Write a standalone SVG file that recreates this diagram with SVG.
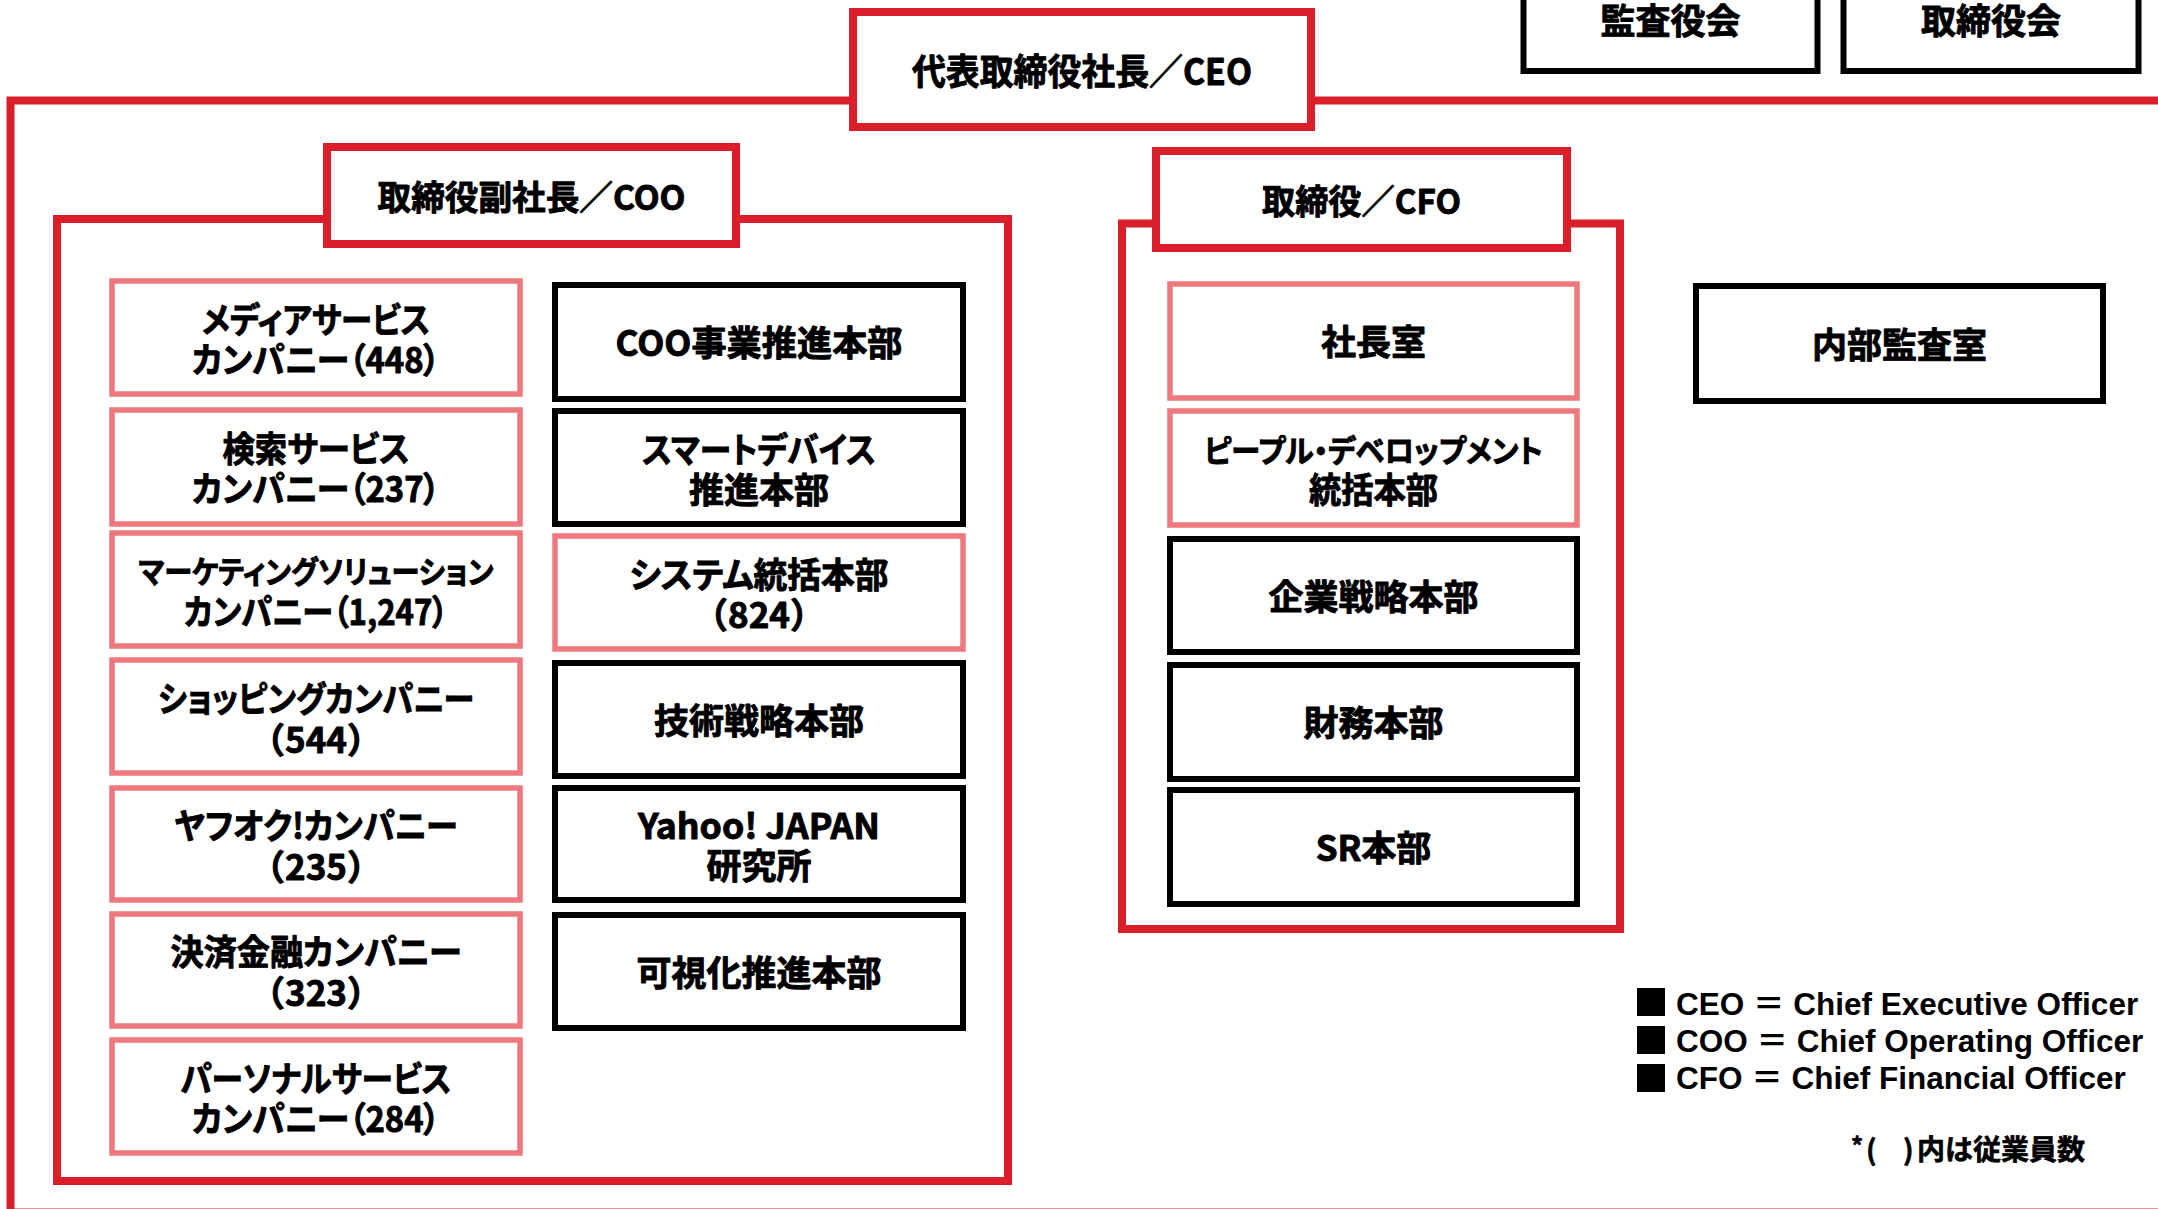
<svg xmlns="http://www.w3.org/2000/svg" width="2158" height="1209" viewBox="0 0 2158 1209">
<defs>
<style>
.frame{fill:none;stroke:#DA1F2B;stroke-width:8}
.red{fill:#fff;stroke:#DA1F2B;stroke-width:8}
.pink{fill:#fff;stroke:#EE787E;stroke-width:5.5}
.blk{fill:#fff;stroke:#000;stroke-width:6}
.t{font-family:"Noto Sans CJK JP","Noto Sans CJK SC",sans-serif;font-weight:700;font-size:35px;fill:#000;stroke:#000;stroke-width:0.9;stroke-linejoin:round;text-anchor:middle;dominant-baseline:central}
.p{font-feature-settings:"palt"}
.lg{font-family:"Liberation Sans","Noto Sans CJK JP",sans-serif;font-weight:700;font-size:31.5px;fill:#000}
.eq{font-family:"Noto Sans CJK JP",sans-serif}
.fn{font-family:"Noto Sans CJK JP",sans-serif;font-weight:700;font-size:28px;fill:#000;stroke:#000;stroke-width:0.6;dominant-baseline:central}
</style>
</defs>
<rect x="0" y="0" width="2158" height="1209" fill="#fff"/>

<g id="connectors">
  <rect class="frame" x="10.5" y="100.5" width="2300" height="1112"/>
  <rect class="frame" x="57" y="219" width="951" height="962"/>
  <rect class="frame" x="1122" y="223.5" width="498" height="705.5"/>
</g>

<g id="ceo">
  <rect class="red" x="853" y="12" width="458" height="115"/>
  <text class="t" x="1082" y="69" style="font-size:36px" textLength="340" lengthAdjust="spacingAndGlyphs">代表取締役社長／CEO</text>
</g>
<g id="kansayakukai">
  <rect class="blk" x="1523.5" y="-45" width="294" height="116"/>
  <text class="t" x="1670.5" y="18">監査役会</text>
</g>
<g id="torishimariyakukai">
  <rect class="blk" x="1843.5" y="-45" width="295" height="116"/>
  <text class="t" x="1991" y="18">取締役会</text>
</g>

<g id="coo">
  <rect class="red" x="327" y="147" width="409" height="97"/>
  <text class="t" x="531.5" y="195" style="font-size:34px" textLength="308" lengthAdjust="spacingAndGlyphs">取締役副社長／COO</text>
</g>
<g id="cfo">
  <rect class="red" x="1156" y="151" width="411" height="97"/>
  <text class="t" x="1361.5" y="199" style="font-size:34px" textLength="199" lengthAdjust="spacingAndGlyphs">取締役／CFO</text>
</g>

<!-- COO left column -->
<g id="media">
  <rect class="pink" x="112" y="281" width="408" height="113"/>
  <text class="t p" x="316" y="317" textLength="228" lengthAdjust="spacingAndGlyphs">メディアサービス</text>
  <text class="t p" x="316" y="357" textLength="248" lengthAdjust="spacingAndGlyphs">カンパニー（448）</text>
</g>
<g id="search">
  <rect class="pink" x="112" y="410" width="408" height="114"/>
  <text class="t p" x="316" y="446.5" textLength="187" lengthAdjust="spacingAndGlyphs">検索サービス</text>
  <text class="t p" x="316" y="486.5" textLength="248" lengthAdjust="spacingAndGlyphs">カンパニー（237）</text>
</g>
<g id="marketing">
  <rect class="pink" x="112" y="533" width="408" height="113"/>
  <text class="t p" x="316" y="569" style="font-size:31px" textLength="355" lengthAdjust="spacingAndGlyphs">マーケティングソリューション</text>
  <text class="t p" x="316" y="609" textLength="264" lengthAdjust="spacingAndGlyphs">カンパニー（1,247）</text>
</g>
<g id="shopping">
  <rect class="pink" x="112" y="660" width="408" height="113"/>
  <text class="t p" x="316" y="696" textLength="316" lengthAdjust="spacingAndGlyphs">ショッピングカンパニー</text>
  <text class="t" x="316" y="737.5">（544）</text>
</g>
<g id="auction">
  <rect class="pink" x="112" y="788" width="408" height="112"/>
  <text class="t p" x="316" y="823.5" textLength="283" lengthAdjust="spacingAndGlyphs">ヤフオク!カンパニー</text>
  <text class="t" x="316" y="864.5">（235）</text>
</g>
<g id="payment">
  <rect class="pink" x="112" y="914" width="408" height="112"/>
  <text class="t p" x="316" y="949.5" textLength="291" lengthAdjust="spacingAndGlyphs">決済金融カンパニー</text>
  <text class="t" x="316" y="990.5">（323）</text>
</g>
<g id="personal">
  <rect class="pink" x="112" y="1040" width="408" height="113"/>
  <text class="t p" x="316" y="1076" textLength="271" lengthAdjust="spacingAndGlyphs">パーソナルサービス</text>
  <text class="t p" x="316" y="1116" textLength="248" lengthAdjust="spacingAndGlyphs">カンパニー（284）</text>
</g>

<!-- COO right column -->
<g id="coo-jigyo">
  <rect class="blk" x="555" y="285" width="408" height="114"/>
  <text class="t" x="759" y="340" textLength="287" lengthAdjust="spacingAndGlyphs">COO事業推進本部</text>
</g>
<g id="smartdevice">
  <rect class="blk" x="555" y="411" width="408" height="113"/>
  <text class="t p" x="759" y="447" textLength="234" lengthAdjust="spacingAndGlyphs">スマートデバイス</text>
  <text class="t" x="759" y="487">推進本部</text>
</g>
<g id="system">
  <rect class="pink" x="555" y="536" width="408" height="113"/>
  <text class="t p" x="759" y="572" textLength="259" lengthAdjust="spacingAndGlyphs">システム統括本部</text>
  <text class="t" x="759" y="612.5">（824）</text>
</g>
<g id="gijutsu">
  <rect class="blk" x="555" y="663" width="408" height="113"/>
  <text class="t" x="759" y="718">技術戦略本部</text>
</g>
<g id="research">
  <rect class="blk" x="555" y="788" width="408" height="112"/>
  <text class="t" x="759" y="823.5" textLength="242" lengthAdjust="spacingAndGlyphs">Yahoo! JAPAN</text>
  <text class="t" x="759" y="863.5">研究所</text>
</g>
<g id="kashika">
  <rect class="blk" x="555" y="915" width="408" height="113"/>
  <text class="t" x="759" y="970">可視化推進本部</text>
</g>

<!-- CFO column -->
<g id="shachoshitsu">
  <rect class="pink" x="1170" y="284" width="407" height="114"/>
  <text class="t" x="1373.5" y="339.5">社長室</text>
</g>
<g id="people">
  <rect class="pink" x="1170" y="411" width="407" height="114"/>
  <text class="t p" x="1373.5" y="448.5" style="font-size:31px" textLength="339" lengthAdjust="spacingAndGlyphs">ピープル・デベロップメント</text>
  <text class="t" x="1373.5" y="487.5" textLength="129" lengthAdjust="spacingAndGlyphs">統括本部</text>
</g>
<g id="kigyo">
  <rect class="blk" x="1170" y="539" width="407" height="113"/>
  <text class="t" x="1373.5" y="594">企業戦略本部</text>
</g>
<g id="zaimu">
  <rect class="blk" x="1170" y="665" width="407" height="114"/>
  <text class="t" x="1373.5" y="720.5">財務本部</text>
</g>
<g id="sr">
  <rect class="blk" x="1170" y="790" width="407" height="114"/>
  <text class="t" x="1373.5" y="845.5">SR本部</text>
</g>

<g id="naibukansa">
  <rect class="blk" x="1696" y="286" width="407" height="115"/>
  <text class="t" x="1899.5" y="342">内部監査室</text>
</g>

<g id="legend">
  <rect x="1637" y="988" width="28" height="28" fill="#000"/>
  <rect x="1637" y="1026" width="28" height="28" fill="#000"/>
  <rect x="1637" y="1064" width="28" height="28" fill="#000"/>
  <text class="lg" x="1676" y="1015">CEO <tspan class="eq">＝</tspan> Chief Executive Officer</text>
  <text class="lg" x="1676" y="1052">COO <tspan class="eq">＝</tspan> Chief Operating Officer</text>
  <text class="lg" x="1676" y="1089">CFO <tspan class="eq">＝</tspan> Chief Financial Officer</text>
  <text class="fn" y="1148"><tspan x="1851" dy="-4" style="font-size:24px">*</tspan><tspan x="1866" dy="4">(</tspan><tspan x="1903">)</tspan><tspan x="1917">内は従業員数</tspan></text>
</g>
</svg>
